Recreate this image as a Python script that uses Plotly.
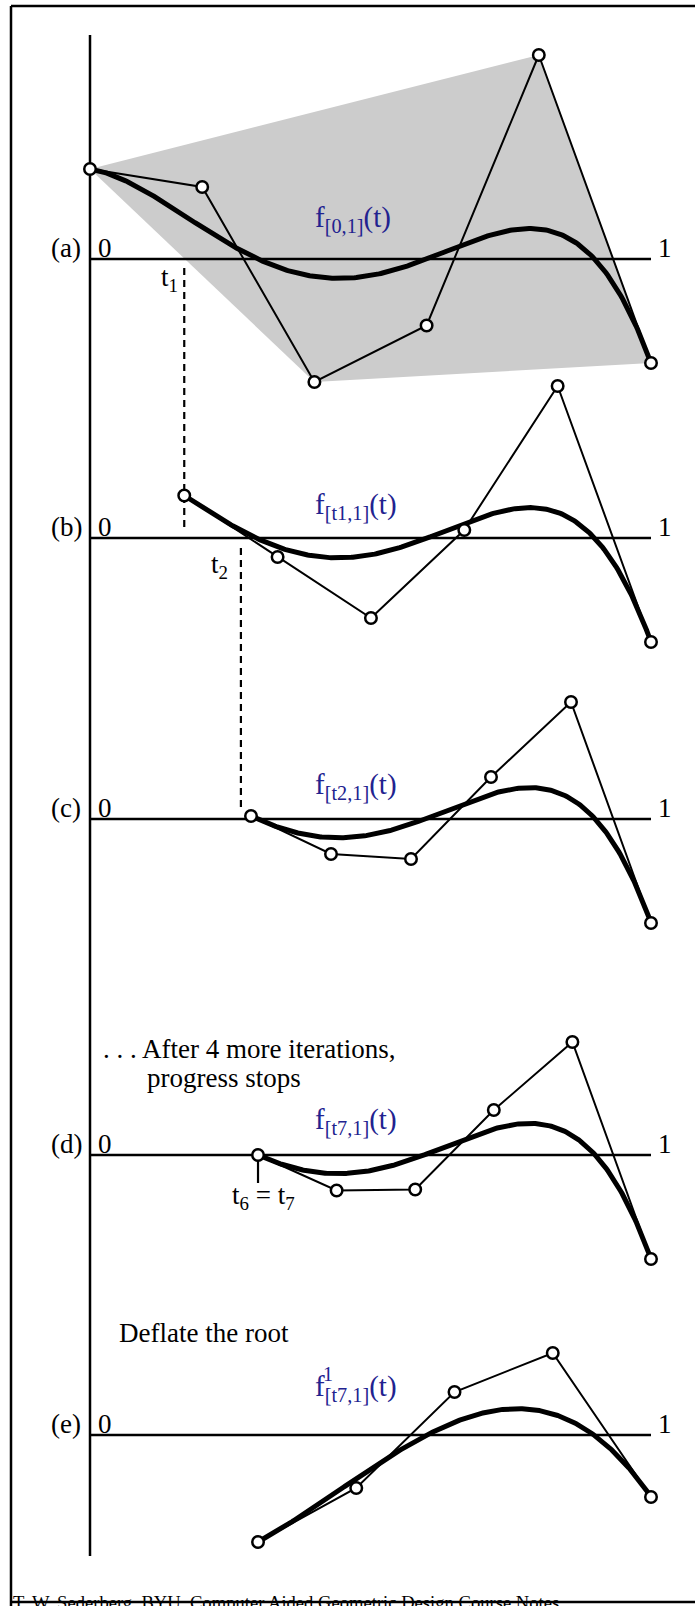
import numpy as np
import plotly.graph_objects as go
from math import comb

# ---------------- data ----------------
panel_labels = ["(a)", "(b)", "(c)", "(d)", "(e)"]
curve_labels = ["f<sub>[0,1]</sub>(t)", "f<sub>[t1,1]</sub>(t)", "f<sub>[t2,1]</sub>(t)",
                "f<sub>[t7,1]</sub>(t)", "f<sub>[t7,1]</sub>(t)"]
# parameter where each control polygon starts (ends at t = 1)
t_start = [0.0, 0.168, 0.287, 0.2995, 0.2995]
# control-point ordinates (pixels above the panel's axis)
ctrl_a = [90, 72, -123, -66.5, 204, -104]
ctrl_b = [42.5, -19, -80, 8, 152, -104]
ctrl_c = [3, -35, -40, 42, 117, -104]
ctrl_d = [0, -35.5, -34.5, 45, 113, -104]
ctrl_e = [-107, -53, 43, 82, -62]
hull_idx = [0, 4, 5, 2]          # convex hull vertices of panel (a)
dash_t = [0.168, 0.269]          # dashed projection lines t1, t2

# ---------------- layout constants ----------------
W, H = 695, 1606
X0, XL = 90, 561                 # pixel of t=0 and pixel length of [0,1]
baselines = [259, 538, 819, 1155, 1435]
FONT = "Liberation Serif, Times New Roman, serif"
BLUE = "#22228f"

def bezier(ctrl, n=300):
    ctrl = np.asarray(ctrl, float)
    d = len(ctrl) - 1
    s = np.linspace(0, 1, n)
    return sum(comb(d, i) * s**i * (1 - s)**(d - i) * ctrl[i] for i in range(d + 1)), s

fig = go.Figure()
ctrls = [ctrl_a, ctrl_b, ctrl_c, ctrl_d, ctrl_e]

# hull of (a)
ta = np.linspace(t_start[0], 1, len(ctrl_a))
fig.add_trace(go.Scatter(x=[ta[i] for i in hull_idx], y=[baselines[0] - ctrl_a[i] for i in hull_idx],
                         fill="toself", fillcolor="#cccccc", line=dict(width=0), mode="lines",
                         hoverinfo="skip"))

# axes
for b in baselines:
    fig.add_trace(go.Scatter(x=[0, 1], y=[b, b], mode="lines", line=dict(color="black", width=2.5)))
fig.add_trace(go.Scatter(x=[0, 0], y=[35, 1556], mode="lines", line=dict(color="black", width=2.5)))

# dashed lines
dash_y = [(268, 530), (548, 812)]
for t, (y1, y2) in zip(dash_t, dash_y):
    fig.add_trace(go.Scatter(x=[t, t], y=[y1, y2], mode="lines",
                             line=dict(color="black", width=2.2, dash="7px,5px")))
# tick at t7 in (d)
fig.add_trace(go.Scatter(x=[t_start[3], t_start[3]], y=[baselines[3], baselines[3] + 28], mode="lines",
                         line=dict(color="black", width=2.2)))

for k, (ctrl, b, t0) in enumerate(zip(ctrls, baselines, t_start)):
    tx = np.linspace(t0, 1, len(ctrl))
    ty = [b - v for v in ctrl]
    cy, s = bezier(ctrl)
    fig.add_trace(go.Scatter(x=tx, y=ty, mode="lines", line=dict(color="black", width=2)))
    fig.add_trace(go.Scatter(x=t0 + (1 - t0) * s, y=b - cy, mode="lines",
                             line=dict(color="black", width=5)))
    fig.add_trace(go.Scatter(x=tx, y=ty, mode="markers",
                             marker=dict(symbol="circle", size=11.5, color="white",
                                         line=dict(color="black", width=2.5))))

def px2t(px):
    return (px - X0) / XL

ann = []
for k, b in enumerate(baselines):
    ann.append(dict(x=px2t(66), y=b - 11, text=panel_labels[k], xanchor="center", yanchor="middle"))
    ann.append(dict(x=px2t(105), y=b - 11, text="0", xanchor="center", yanchor="middle"))
    ann.append(dict(x=px2t(665), y=b - 11, text="1", xanchor="center", yanchor="middle"))
label_y = [219, 506, 786, 1121, 1388]
for k, ly in enumerate(label_y):
    ann.append(dict(x=px2t(313), y=ly, text=curve_labels[k], xanchor="left", yanchor="middle",
                    font=dict(color=BLUE, size=29, family=FONT)))
ann.append(dict(x=px2t(328), y=1374, text="1", xanchor="center", yanchor="middle",
                font=dict(color=BLUE, size=20, family=FONT)))
ann.append(dict(x=px2t(169), y=279, text="t<sub>1</sub>", xanchor="center", yanchor="middle"))
ann.append(dict(x=px2t(219), y=566, text="t<sub>2</sub>", xanchor="center", yanchor="middle"))
ann.append(dict(x=px2t(263), y=1197, text="t<sub>6</sub> = t<sub>7</sub>", xanchor="center", yanchor="middle"))
ann.append(dict(x=px2t(101), y=1049, text=". . . After 4 more iterations,", xanchor="left", yanchor="middle"))
ann.append(dict(x=px2t(145), y=1078, text="progress stops", xanchor="left", yanchor="middle"))
ann.append(dict(x=px2t(117), y=1333, text="Deflate the root", xanchor="left", yanchor="middle"))
ann.append(dict(x=px2t(11), y=1590, text="T. W. Sederberg, BYU, Computer Aided Geometric Design Course Notes",
                xanchor="left", yanchor="top", font=dict(size=18.6, family=FONT, color="black")))
for a in ann:
    a.setdefault("font", dict(size=27, family=FONT, color="black"))
    a["showarrow"] = False
    a["xref"] = "x"
    a["yref"] = "y"

shapes = [
    dict(type="line", xref="paper", yref="paper", x0=11 / W, x1=11 / W, y0=0, y1=1 - 6 / H),
    dict(type="line", xref="paper", yref="paper", x0=11 / W, x1=1, y0=1 - 6 / H, y1=1 - 6 / H),
    dict(type="line", xref="paper", yref="paper", x0=11 / W, x1=1, y0=1 - 1602 / H, y1=1 - 1602 / H),
]
for s_ in shapes:
    s_["line"] = dict(color="black", width=2.5)

fig.update_layout(
    width=W, height=H, margin=dict(l=0, r=0, t=0, b=0),
    paper_bgcolor="white", plot_bgcolor="white", showlegend=False,
    xaxis=dict(range=[px2t(0), px2t(W)], visible=False, fixedrange=True),
    yaxis=dict(range=[H, 0], visible=False, fixedrange=True),
    annotations=ann, shapes=shapes,
)
fig.write_html("out.html", config={"displayModeBar": False},
               post_script="document.body.style.margin='0';document.body.style.overflow='hidden';")
